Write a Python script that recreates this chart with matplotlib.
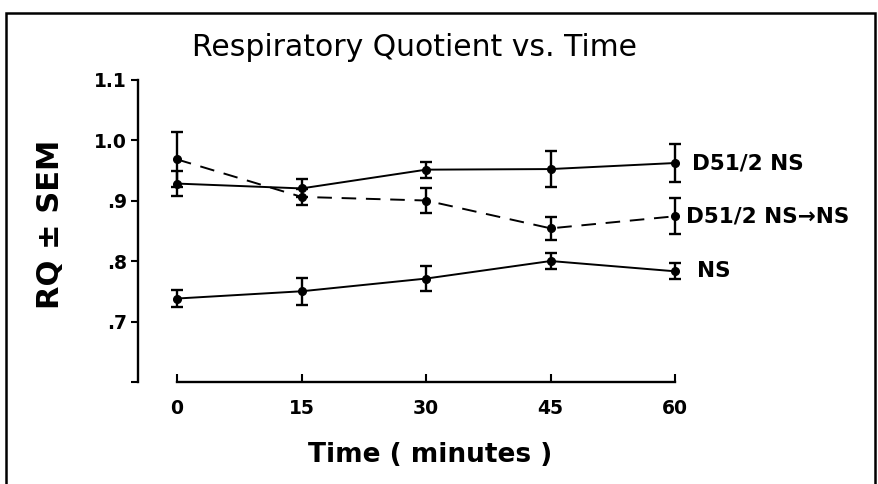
import matplotlib.pyplot as plt
from matplotlib.patches import Rectangle

plt.rcParams["font.family"] = ["DejaVu Sans"]

# time points (minutes)
minutes = [0, 15, 30, 45, 60]

# D51/2 NS (solid)
d51_rq = [0.928, 0.920, 0.951, 0.952, 0.962]
d51_sem = [0.020, 0.015, 0.013, 0.030, 0.032]

# D51/2 NS -> NS (dashed)
d51ns_rq = [0.968, 0.906, 0.900, 0.854, 0.874]
d51ns_sem = [0.045, 0.013, 0.021, 0.019, 0.030]

# NS (solid)
ns_rq = [0.738, 0.750, 0.771, 0.800, 0.783]
ns_sem = [0.014, 0.022, 0.021, 0.013, 0.013]

series_labels = ["D51/2 NS", "D51/2 NS\u2192NS", "NS"]

y_ticks = [0.6, 0.7, 0.8, 0.9, 1.0, 1.1]
y_ticklabels = ["", ".7", ".8", ".9", "1.0", "1.1"]

fig = plt.figure(figsize=(8.79, 4.84), dpi=100)
ax = fig.add_axes([0.157, 0.2107, 0.833, 0.625])

common = dict(color="black", marker="o", markersize=5.5, capsize=4.5,
              elinewidth=1.7, capthick=1.7, lw=1.4)
ax.errorbar(minutes, d51_rq, yerr=d51_sem, ls="-", **common)
ax.errorbar(minutes, d51ns_rq, yerr=d51ns_sem, ls=(0, (7.5, 5)), **common)
ax.errorbar(minutes, ns_rq, yerr=ns_sem, ls="-", **common)

for lab, vals, dx in zip(series_labels, [d51_rq, d51ns_rq, ns_rq], [12, 8, 16]):
    ax.annotate(lab, (minutes[-1], vals[-1]), xytext=(dx, 0),
                textcoords="offset points", va="center", ha="left",
                fontsize=15.5, fontweight="bold")

ax.set_xlim(-4.7, 83.5)
ax.set_ylim(0.6, 1.1)

for s in ["top", "right"]:
    ax.spines[s].set_visible(False)
ax.spines["left"].set_linewidth(1.7)
ax.spines["bottom"].set_linewidth(1.7)
ax.spines["bottom"].set_bounds(0, 60)

ax.set_yticks(y_ticks)
ax.set_yticklabels(y_ticklabels, fontsize=13.5, fontweight="bold")
ax.set_xticks(minutes)
ax.set_xticklabels([str(m) for m in minutes], fontsize=13.5, fontweight="bold")
ax.tick_params(axis="y", direction="out", length=5, width=1.5, pad=3)
ax.tick_params(axis="x", direction="in", length=6, width=1.5, pad=12)

ax.set_ylabel("RQ \u00b1 SEM", fontsize=22, fontweight="bold")
ax.yaxis.set_label_coords(-0.0997, 0.522)
ax.set_xlabel("Time ( minutes )", fontsize=19, fontweight="bold")
ax.xaxis.set_label_coords(0.399, -0.198)

fig.text(0.472, 0.901, "Respiratory Quotient vs. Time", fontsize=21.5,
         ha="center", va="center")

# frame around the whole figure
frame = Rectangle((6 / 879, -0.05), 869 / 879, 1.05 - 13 / 484,
                  transform=fig.transFigure, fill=False, lw=1.8,
                  edgecolor="black", clip_on=False)
fig.patches.append(frame)

fig.savefig("out.png", dpi=100)
